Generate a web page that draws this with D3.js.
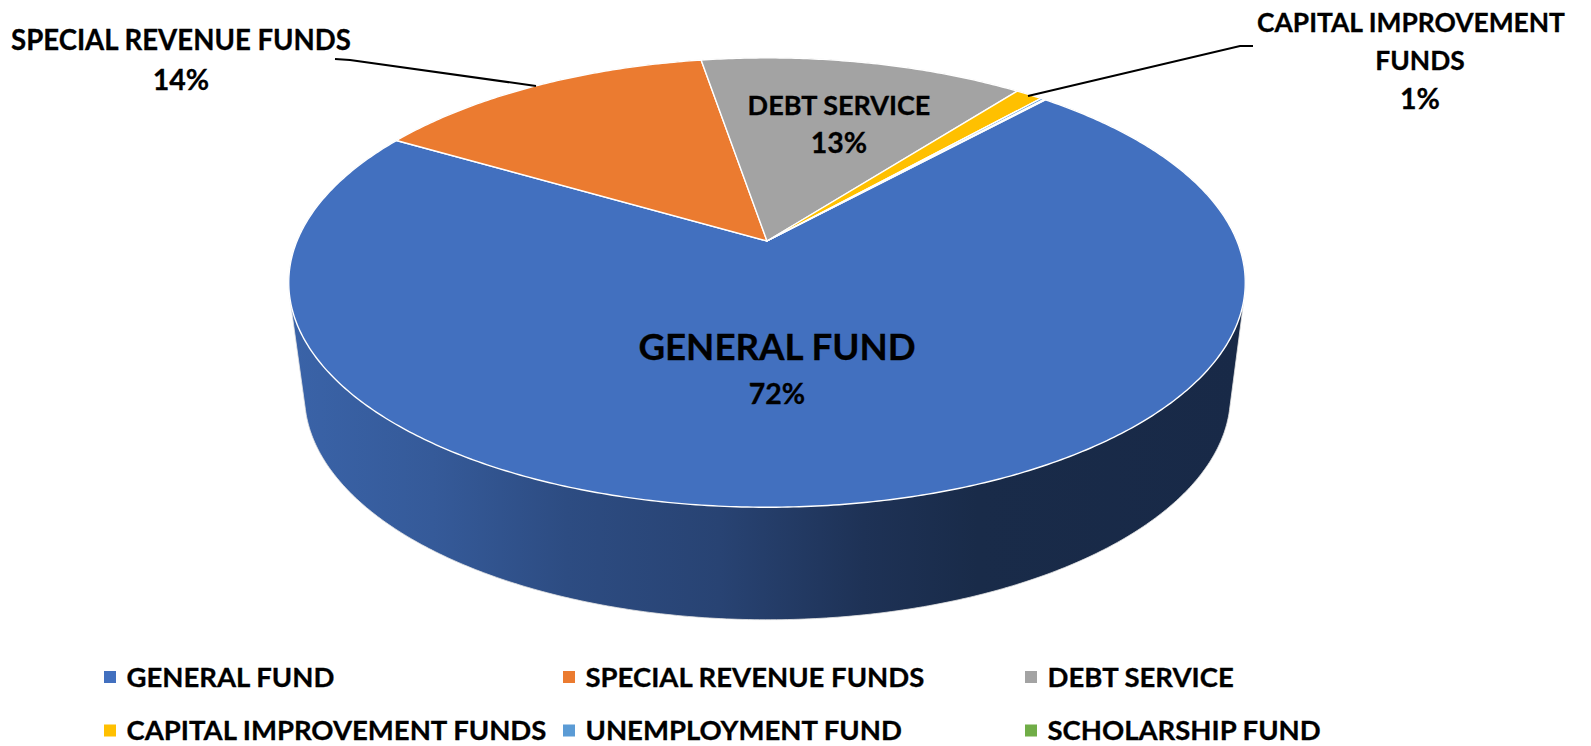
<!DOCTYPE html>
<html>
<head>
<meta charset="utf-8">
<script src="https://cdn.jsdelivr.net/npm/d3@7"></script>
<style>
  html, body { margin: 0; padding: 0; background: #fff; }
  svg { display: block; }
  text { font-family: Lato, "Open Sans", sans-serif; font-weight: 700; fill: #000; stroke: #000; stroke-width: 0.3px; }
</style>
</head>
<body>
<div id="chart-container"></div>
<script>
// values (share of the total, in percent)
const categories = ["GENERAL FUND", "SPECIAL REVENUE FUNDS", "DEBT SERVICE", "CAPITAL IMPROVEMENT FUNDS", "UNEMPLOYMENT FUND", "SCHOLARSHIP FUND"];
const shares = [71.7, 13.9, 13.1, 1.1, 0.15, 0.05];
const percentLabels = ["72%", "14%", "13%", "1%"];
const colors = ["#4270BF", "#EB7B30", "#A3A3A3", "#FFC000", "#5B9BD5", "#70AD47"];

const width = 1591;
const height = 746;

const svg = d3.select("#chart-container")
    .append("svg")
    .attr("width", width)
    .attr("height", height);

// pie starts a bit past 12 o'clock
const pie = d3.pie().sort(null).startAngle(42.3 * Math.PI / 180).endAngle((360 + 42.3) * Math.PI / 180);
const slices = pie(shares);

// perspective tilt of the pie: near edge is bigger than the far edge
const tilt = -0.185;
const topDisc = { cx: 767, cy: 241, rx: 470, ry: 217 };
const bottomDisc = { cx: 767.5, cy: 354, rx: 455, ry: 216.6 };

function project(disc, angle) {
    const u = Math.sin(angle);
    const v = -Math.cos(angle);
    const w = 1 + tilt * v;
    return [disc.cx + disc.rx * u / w, disc.cy + disc.ry * v / w];
}

function rimPoints(disc, a0, a1) {
    const steps = Math.max(2, Math.ceil(Math.abs(a1 - a0) / 0.01));
    return d3.range(steps + 1).map((i) => project(disc, a0 + (a1 - a0) * i / steps));
}

const line = d3.line();

// side wall shading, runs left to right across the pie
const defs = svg.append("defs");
const sideStops = [[0, 0.88], [0.15, 0.8], [0.29, 0.68], [0.45, 0.6], [0.6, 0.45], [0.72, 0.38], [1, 0.37]];
slices.forEach((d, i) => {
    const grad = defs.append("linearGradient")
        .attr("id", "side" + i)
        .attr("gradientUnits", "userSpaceOnUse")
        .attr("x1", 290).attr("y1", 0)
        .attr("x2", 1245).attr("y2", 0);
    const base = d3.rgb(colors[i]);
    sideStops.forEach((s) => {
        grad.append("stop")
            .attr("offset", s[0])
            .attr("stop-color", d3.rgb(base.r * s[1], base.g * s[1], base.b * s[1]).formatHex());
    });
});

// side walls first, the top covers whatever is behind
const sides = svg.append("g");
slices.forEach((d, i) => {
    const top = rimPoints(topDisc, d.startAngle, d.endAngle);
    const bottom = rimPoints(bottomDisc, d.startAngle, d.endAngle);
    sides.append("path")
        .attr("d", line(d3.polygonHull(top.concat(bottom))) + "Z")
        .attr("fill", "url(#side" + i + ")")
        .attr("stroke", "#e4e4e4")
        .attr("stroke-width", 0.8);
});

// top face of the pie
svg.append("g")
    .selectAll("path")
    .data(slices)
    .enter()
    .append("path")
    .attr("d", (d) => line([[topDisc.cx, topDisc.cy]].concat(rimPoints(topDisc, d.startAngle, d.endAngle))) + "Z")
    .attr("fill", (d, i) => colors[i])
    .attr("stroke", "#fff")
    .attr("stroke-width", 1.4)
    .attr("stroke-linejoin", "round");

// leader lines
const leaders = [
    [[335, 59], [350, 60], [536, 86]],
    [[1253, 46], [1240, 46], [1028, 96]]
];
svg.append("g")
    .selectAll("path")
    .data(leaders)
    .enter()
    .append("path")
    .attr("d", (d) => line(d))
    .attr("fill", "none")
    .attr("stroke", "#000")
    .attr("stroke-width", 2);

// data labels
const dataLabels = [
    { lines: [categories[0]], xs: [777], ys: [347], pctX: 777, pctY: 394, size: 36.7 },
    { lines: [categories[1]], xs: [181], ys: [40], pctX: 181, pctY: 80, size: 27.6 },
    { lines: [categories[2]], xs: [839], ys: [106], pctX: 839, pctY: 143, size: 27 },
    { lines: ["CAPITAL IMPROVEMENT", "FUNDS"], xs: [1411, 1420], ys: [23, 61], pctX: 1420, pctY: 99, size: 26.4 }
];
const labelGroup = svg.append("g").attr("text-anchor", "middle");
dataLabels.forEach((l, k) => {
    l.lines.forEach((t, i) => {
        labelGroup.append("text")
            .attr("x", l.xs[i]).attr("y", l.ys[i])
            .attr("dy", "0.35em")
            .attr("font-size", l.size)
            .text(t);
    });
    labelGroup.append("text")
        .attr("x", l.pctX).attr("y", l.pctY)
        .attr("dy", "0.35em")
        .attr("font-size", 28.5)
        .text(percentLabels[k]);
});

// legend, two rows of three
const legendX = d3.scaleOrdinal().domain([0, 1, 2]).range([104, 563, 1025]);
const legendY = d3.scaleOrdinal().domain([0, 1]).range([677, 730.5]);
const legend = svg.append("g")
    .selectAll("g")
    .data(categories)
    .enter()
    .append("g")
    .attr("transform", (d, i) => `translate(${legendX(i % 3)}, ${legendY(Math.floor(i / 3))})`);
legend.append("rect")
    .attr("x", 0).attr("y", -6)
    .attr("width", 12).attr("height", 12)
    .attr("fill", (d, i) => colors[i]);
legend.append("text")
    .attr("x", 22.5)
    .attr("dy", "0.35em")
    .attr("font-size", 27.5)
    .text((d) => d);
</script>
</body>
</html>
